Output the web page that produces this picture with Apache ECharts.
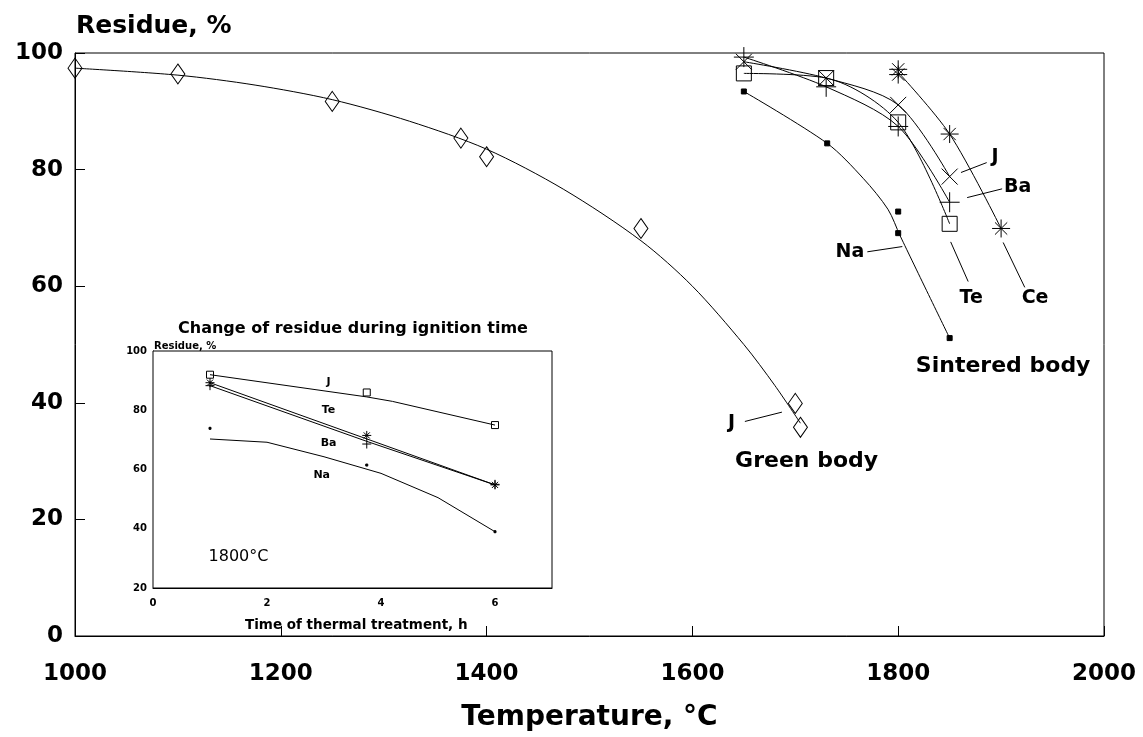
<!DOCTYPE html>
<html>
<head>
<meta charset="utf-8">
<script src="https://cdn.jsdelivr.net/npm/echarts@6/dist/echarts.min.js"></script>
<style>
  html, body { margin: 0; background: #fff; }
  #chart { width: 1143px; height: 737px; }
</style>
</head>
<body>
<div id="chart"></div>
<script>
// ---- main chart: residue vs temperature ----
// green body J, measured points and drawn curve
const greenPts = [[1000, 97.4], [1100, 96.4], [1250, 91.7], [1375, 85.4], [1400, 82.2], [1550, 69.9], [1700, 39.9], [1705, 35.8]]
const greenCurve = [[1000, 97.4], [1100, 96.2], [1175, 94.5], [1250, 92.0], [1325, 88.3], [1400, 83.5], [1475, 76.6], [1550, 67.8], [1600, 60.0], [1650, 50.0], [1680, 43.0], [1705, 36.5]]

// sintered body
const sinJ = [[1650, 98.5], [1730, 95.7], [1800, 91.1], [1850, 78.8]]
const sinBa = [[1650, 99.3], [1730, 94.2], [1800, 87.4], [1850, 74.4]]
const sinTe = [[1650, 96.5], [1730, 95.7], [1800, 88.1], [1850, 70.7]]
const sinCePts = [[1800, 97.2], [1800, 96.3], [1850, 86.1], [1900, 69.9]]
const sinCeCurve = [[1800, 96.7], [1850, 86.1], [1900, 69.9]]
const sinNaPts = [[1650, 93.4], [1731, 84.5], [1800, 72.8], [1800, 69.1], [1850, 51.1]]
const sinNaCurve = [[1650, 93.4], [1731, 84.5], [1766, 78.5], [1790, 73.2], [1802, 68.6], [1850, 51.1]]

// callout labels [text, x, y] and leader lines, in data units
const mainNotes = [['J', 1894, 82.2], ['Ba', 1916, 77], ['Te', 1871, 58], ['Ce', 1933, 58], ['Na', 1753, 65.9], ['J', 1638, 36.6]]
const bodyNotes = [['Sintered body', 1902, 46.2], ['Green body', 1711, 30]]
const mainLeaders = [
  [[1861, 79.5], [1886, 81.2]],
  [[1867, 75.2], [1901, 76.7]],
  [[1851, 67.6], [1868, 60.8]],
  [[1902, 67.5], [1923, 59.8]],
  [[1770, 65.9], [1804, 66.8]],
  [[1651, 36.8], [1687, 38.4]]
]

// ---- inset: residue vs time at 1800 C ----
const inJ = [[1, 92], [3.75, 86], [6, 75]]
const inJCurve = [[1, 92], [3.75, 84.5], [4.2, 83], [6, 75]]
const inTe = [[1, 89.3], [3.75, 71.5], [6, 54.8]]
const inTeCurve = [[1, 89.3], [6, 54.8]]
const inBa = [[1, 88.3], [3.75, 68.6], [6, 55]]
const inBaCurve = [[1, 88.3], [3.75, 69.5], [6, 54.8]]
const inNa = [[1, 73.9], [3.75, 61.5], [6, 39]]
const inNaCurve = [[1, 70.3], [2, 69.2], [3, 64.3], [4, 58.7], [5, 50.5], [6, 39]]
const inNotes = [['J', 3.08, 89.5], ['Te', 3.08, 80], ['Ba', 3.08, 69], ['Na', 2.96, 58.1]]
const inTempNote = [['1800°C', 1.5, 30.5]]

const CROSS = 'path://M0,0L10,10M10,0L0,10'
const PLUS = 'path://M5,0L5,10M0,5L10,5'
const STAR = 'path://M5,0L5,10M0,5L10,5M1.6,1.6L8.4,8.4M8.4,1.6L1.6,8.4'
const FONT = 'DejaVu Sans'

const chart = echarts.init(document.getElementById('chart'))

function curve(data, idx, smooth) {
  return {
    type: 'line', xAxisIndex: idx, yAxisIndex: idx, data: data,
    smooth: smooth, symbol: 'none', silent: true, clip: false,
    lineStyle: { color: '#000', width: 1 }, z: 3
  }
}
function marks(data, idx, symbol, size, solid) {
  return {
    type: 'scatter', xAxisIndex: idx, yAxisIndex: idx, data: data,
    symbol: symbol, symbolSize: size, silent: true, clip: false,
    itemStyle: { color: solid ? '#000' : 'transparent', borderColor: '#000', borderWidth: 1, opacity: 1 }, z: 4
  }
}
function notes(list, idx, size, weight) {
  return {
    type: 'scatter', xAxisIndex: idx, yAxisIndex: idx, silent: true, clip: false,
    data: list.map(n => ({ name: n[0], value: [n[1], n[2]] })),
    symbolSize: 1, itemStyle: { color: 'transparent', opacity: 1 },
    label: { show: true, position: 'inside', formatter: '{b}', color: '#000', opacity: 1, fontFamily: FONT, fontSize: size, fontWeight: weight }, z: 5
  }
}

const series = [
  curve(greenCurve, 0, 0.3),
  marks(greenPts, 0, 'diamond', [14, 20]),
  curve(sinJ, 0, 0.3),
  curve(sinBa, 0, 0.3),
  curve(sinTe, 0, 0.3),
  curve(sinCeCurve, 0, 0.3),
  curve(sinNaCurve, 0, 0.3),
  marks(sinJ, 0, CROSS, 16),
  marks(sinBa, 0, PLUS, 20),
  marks(sinTe, 0, 'rect', 15),
  marks(sinCePts, 0, STAR, 18),
  marks(sinNaPts, 0, 'rect', 5, true),
  notes(mainNotes, 0, 19, 'bold'),
  notes(bodyNotes, 0, 22, 'bold'),
  curve(inJCurve, 1, false),
  curve(inTeCurve, 1, false),
  curve(inBaCurve, 1, false),
  curve(inNaCurve, 1, false),
  marks(inJ, 1, 'rect', 7),
  marks(inTe, 1, STAR, 9),
  marks(inBa, 1, PLUS, 9),
  marks(inNa, 1, 'rect', 2, true),
  notes(inNotes, 1, 11, 'bold'),
  notes(inTempNote, 1, 16, 'normal')
]
mainLeaders.forEach(seg => series.push(curve(seg, 0, false)))

const plain = v => String(v)

const option = {
  backgroundColor: '#fff',
  animation: false,
  title: [
    { text: 'Residue, %', left: 71, top: 9, textStyle: { fontFamily: FONT, fontSize: 25, fontWeight: 'bold', color: '#000' } },
    { text: 'Change of residue during ignition time', left: 173, top: 316, textStyle: { fontFamily: FONT, fontSize: 16, fontWeight: 'bold', color: '#000' } },
    { text: 'Residue, %', left: 149, top: 336, textStyle: { fontFamily: FONT, fontSize: 10, fontWeight: 'bold', color: '#000' } },
    { text: 'Time of thermal treatment, h', left: 240, top: 613, textStyle: { fontFamily: FONT, fontSize: 13.5, fontWeight: 'bold', color: '#000' } }
  ],
  grid: [
    { left: 75, right: 39, top: 53, bottom: 100, show: true, borderColor: '#000', borderWidth: 1 },
    { left: 153, top: 351, width: 399, height: 237, show: true, borderColor: '#000', borderWidth: 1, backgroundColor: '#fff', z: 2 }
  ],
  xAxis: [
    {
      type: 'value', gridIndex: 0, min: 1000, max: 2000, interval: 200,
      name: 'Temperature, °C', nameLocation: 'middle', nameGap: 68,
      nameTextStyle: { fontFamily: FONT, fontSize: 28, fontWeight: 'bold', color: '#000' },
      axisLine: { lineStyle: { color: '#000', width: 1 } },
      axisTick: { inside: true, length: 10, lineStyle: { color: '#000' } },
      axisLabel: { margin: 27, color: '#000', fontFamily: FONT, fontSize: 23, fontWeight: 'bold', formatter: plain },
      splitLine: { show: false }
    },
    {
      type: 'value', gridIndex: 1, min: 0, max: 7, interval: 2,
      axisLine: { lineStyle: { color: '#000', width: 1 } },
      axisTick: { show: false },
      axisLabel: { margin: 10, color: '#000', fontFamily: FONT, fontSize: 10, fontWeight: 'bold', showMaxLabel: false, formatter: plain },
      splitLine: { show: false }
    }
  ],
  yAxis: [
    {
      type: 'value', gridIndex: 0, min: 0, max: 100, interval: 20,
      axisLine: { lineStyle: { color: '#000', width: 1 } },
      axisTick: { inside: true, length: 10, lineStyle: { color: '#000' } },
      axisLabel: { margin: 12, color: '#000', fontFamily: FONT, fontSize: 23, fontWeight: 'bold', formatter: plain },
      splitLine: { show: false }
    },
    {
      type: 'value', gridIndex: 1, min: 20, max: 100, interval: 20,
      axisLine: { lineStyle: { color: '#000', width: 1 } },
      axisTick: { show: false },
      axisLabel: { margin: 6, color: '#000', fontFamily: FONT, fontSize: 10, fontWeight: 'bold', formatter: plain },
      splitLine: { show: false }
    }
  ],
  series: series
}

chart.setOption(option)
</script>
</body>
</html>
